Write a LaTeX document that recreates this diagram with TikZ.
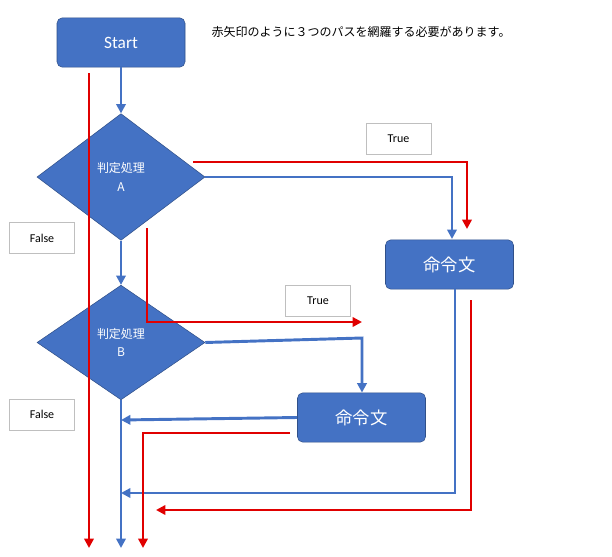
\documentclass[tikz,border=0pt]{standalone}
\usepackage{fontspec}
\setmainfont{Carlito}
\newfontfamily\cjk{Noto Sans CJK JP}
\usetikzlibrary{arrows.meta,shapes.geometric}
\definecolor{bl}{HTML}{4472C4}
\definecolor{rd}{HTML}{E00000}
\begin{document}
\begin{tikzpicture}[x=0.75pt,y=-0.75pt,
  box/.style={draw=bl!70!black,fill=bl,rounded corners=4pt,text=white,minimum width=96pt,minimum height=37pt,inner sep=0pt},
  dia/.style={diamond,draw=bl!70!black,fill=bl,text=white,minimum width=126pt,minimum height=95pt,inner sep=0pt,aspect=1.3,align=center,font=\cjk\fontsize{9}{14}\selectfont},
  lab/.style={draw=gray!50,fill=white,minimum width=49pt,minimum height=23pt,inner sep=0pt,font=\fontsize{9}{10}\selectfont},
  bline/.style={draw=bl,line width=2.2pt,-{Triangle[length=7pt,width=7pt]}},
  rline/.style={draw=rd,line width=2.2pt,-{Triangle[length=7pt,width=7pt]}}]
\useasboundingbox (0,0) rectangle (612,557);
\node[box,font=\fontsize{13}{14}\selectfont] (st) at (121,42.5) {Start};
\node[font=\cjk\fontsize{9}{10}\selectfont,anchor=west] (note) at (207,32) {赤矢印のように３つのパスを網羅する必要があります。};
\node[dia,minimum width=126pt,minimum height=95pt] (a) at (121,177) {判定処理\\A};
\node[dia,minimum width=126pt,minimum height=86pt] (b) at (121,342.5) {判定処理\\B};
\node[box,font=\cjk\fontsize{13}{14}\selectfont] (c1) at (449.5,264.5) {命令文};
\node[box,font=\cjk\fontsize{13}{14}\selectfont] (c2) at (361.5,417.5) {命令文};
\node[lab] (t1) at (398.5,138.5) {True};
\node[lab] (t2) at (318,300.5) {True};
\node[lab] (f1) at (42,238) {False};
\node[lab] (f2) at (42,414.5) {False};
\coordinate (e1) at (121,548);
\coordinate (e2) at (89,548);
\coordinate (e3) at (143,548);
% blue
\draw[bline] (st.south) -- (a.north);
\draw[bline] (a.east) -- (452,177) -- (452,239);
\draw[bline] (a.south) -- (b.north);
\draw[bline] (b.east) -- (362,338) -- (c2.north -| 362,0);
\draw[bline] (c2.west) -- (121,420);
\draw[bline] (b.south) -- (e1);
\draw[bline] (c1.south -| 455,0) -- (455,493) -- (121,493);
% red
\draw[rline] (89,73) -- (e2);
\draw[rline] (193,162) -- (467,162) -- (467,229);
\draw[rline] (147,228) -- (147,322) -- (362,322);
\draw[rline] (471,300) -- (471,510) -- (156,510);
\draw[rline] (290,433) -- (143,433) -- (e3);
\end{tikzpicture}
\end{document}
